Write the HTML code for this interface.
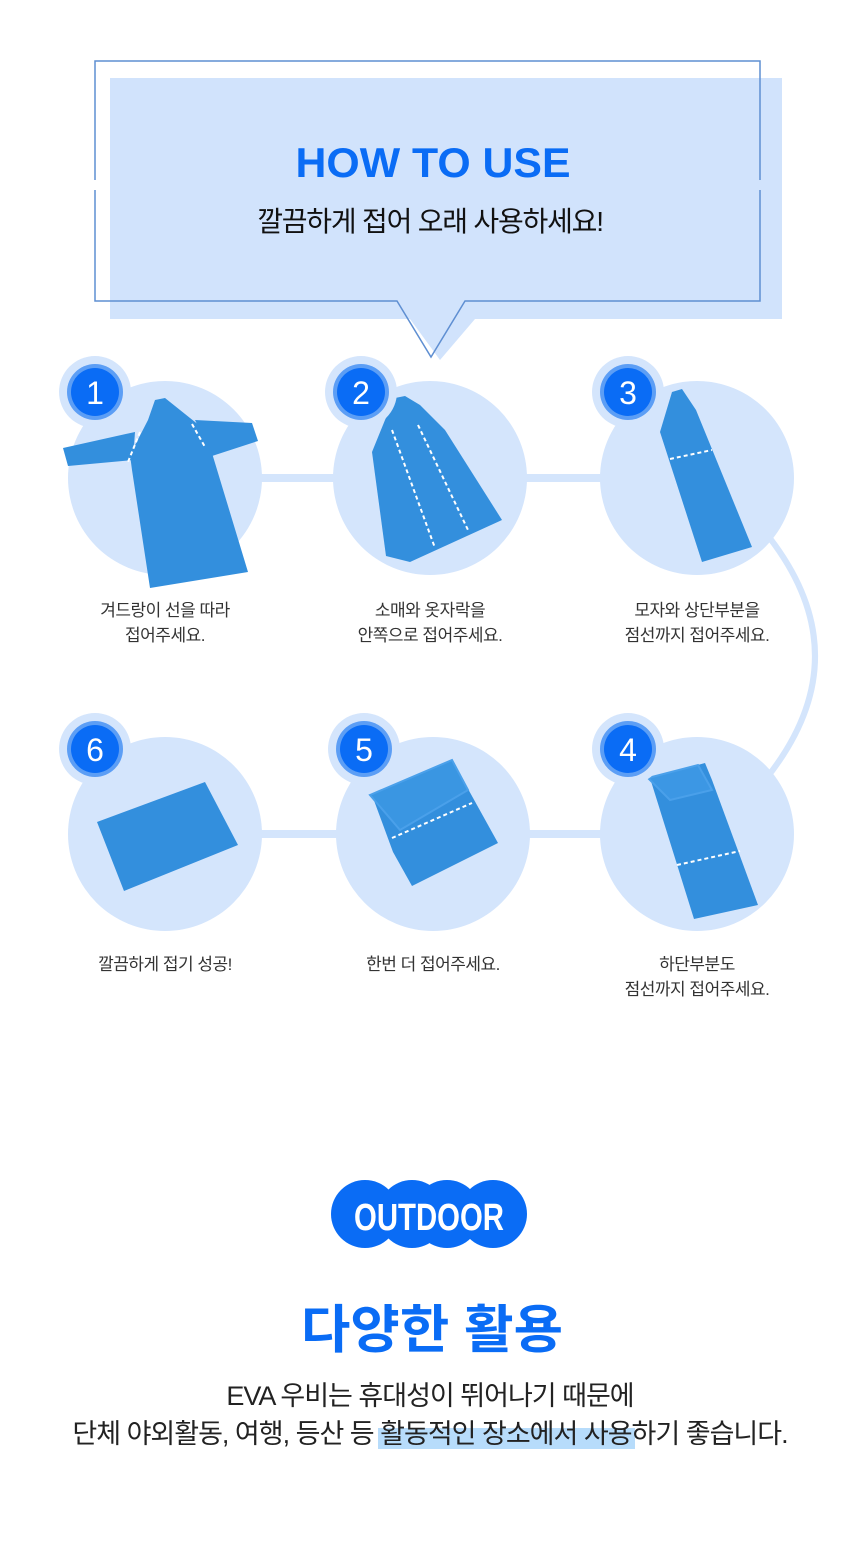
<!DOCTYPE html>
<html><head><meta charset="utf-8"><style>
html,body{margin:0;padding:0;background:#fff}
body{width:860px;height:1551px;overflow:hidden}
svg text{font-family:"Liberation Sans","Noto Sans CJK KR",sans-serif}
</style></head><body>
<svg width="860" height="1551" viewBox="0 0 860 1551" xmlns="http://www.w3.org/2000/svg">
<path d="M110 78 H782 V319 H475 L440 360 L410 319 H110 Z" fill="#d1e3fc"/>
<path d="M95 180 V61 H760 V180 M760 190 V301 H465 L431 357 L397 301 H95 V190" fill="none" stroke="#5f8fd2" stroke-width="1.5"/>
<text x="433" y="177" text-anchor="middle" font-size="42" font-weight="bold" fill="#0a6cf5" textLength="275" lengthAdjust="spacingAndGlyphs">HOW TO USE</text>
<text x="430" y="231" text-anchor="middle" font-size="28" fill="#111" letter-spacing="-1.2">깔끔하게 접어 오래 사용하세요!</text>

<g stroke="#d4e5fc" stroke-width="8" fill="none">
<line x1="165" y1="478" x2="697" y2="478"/>
<line x1="165" y1="834" x2="697" y2="834"/>
<path d="M765 532 Q865 656 765 780" stroke-width="6"/>
</g>
<g fill="#d4e5fc">
<circle cx="165" cy="478" r="97"/><circle cx="430" cy="478" r="97"/><circle cx="697" cy="478" r="97"/>
<circle cx="165" cy="834" r="97"/><circle cx="433" cy="834" r="97"/><circle cx="697" cy="834" r="97"/>
</g>

<g fill="#338fdd">
<path d="M63 448 L135 432 L133 460 L68 466 Z"/>
<path d="M195 420 L252 423 L258 441 L212 456 Z"/>
<path d="M148 420 L155 400 L165 398 L180 410 L205 430 L248 572 L150 588 L132 470 L130 455 Z"/>
<path d="M372 452 L385 420 L395 398 L405 396 L420 405 L445 430 L502 520 L410 562 L386 556 Z"/>
<path d="M660 432 L672 392 L682 389 L696 410 L752 547 L702 562 Z"/>
<path d="M650 778 L705 763 L712 780 L758 905 L694 919 Z"/>
<path d="M372 795 L452 760 L498 843 L412 886 L393 852 Z"/>
<path d="M97 822 L205 782 L238 845 L124 891 Z"/>
</g>
<g fill="none" stroke="#4aa0ea" stroke-width="2">
<path d="M648 778 L698 765 L712 790 L670 800 Z" fill="#3c97e4"/>
<path d="M370 795 L452 760 L468 790 L400 830 Z" fill="#3a96e2"/>
</g>
<g stroke="#fff" stroke-width="2" stroke-dasharray="4 3" fill="none">
<line x1="140" y1="432" x2="128" y2="462"/><line x1="192" y1="424" x2="205" y2="447"/>
<line x1="392" y1="430" x2="435" y2="548"/><line x1="418" y1="425" x2="468" y2="530"/>
<line x1="670" y1="459" x2="712" y2="450"/>
<line x1="677" y1="865" x2="740" y2="851"/>
<line x1="392" y1="838" x2="472" y2="803"/>
</g>

<g>
<circle cx="95" cy="392" r="36" fill="#d4e5fc"/><circle cx="95" cy="392" r="28" fill="#5c9ef5"/><circle cx="95" cy="392" r="24" fill="#0a6cf5"/>
<circle cx="361" cy="392" r="36" fill="#d4e5fc"/><circle cx="361" cy="392" r="28" fill="#5c9ef5"/><circle cx="361" cy="392" r="24" fill="#0a6cf5"/>
<circle cx="628" cy="392" r="36" fill="#d4e5fc"/><circle cx="628" cy="392" r="28" fill="#5c9ef5"/><circle cx="628" cy="392" r="24" fill="#0a6cf5"/>
<circle cx="95" cy="749" r="36" fill="#d4e5fc"/><circle cx="95" cy="749" r="28" fill="#5c9ef5"/><circle cx="95" cy="749" r="24" fill="#0a6cf5"/>
<circle cx="364" cy="749" r="36" fill="#d4e5fc"/><circle cx="364" cy="749" r="28" fill="#5c9ef5"/><circle cx="364" cy="749" r="24" fill="#0a6cf5"/>
<circle cx="628" cy="749" r="36" fill="#d4e5fc"/><circle cx="628" cy="749" r="28" fill="#5c9ef5"/><circle cx="628" cy="749" r="24" fill="#0a6cf5"/>
</g>
<g fill="#fff" font-size="32" text-anchor="middle">
<text x="95" y="404">1</text><text x="361" y="404">2</text><text x="628" y="404">3</text>
<text x="95" y="761">6</text><text x="364" y="761">5</text><text x="628" y="761">4</text>
</g>

<g font-size="17" fill="#333" text-anchor="middle" letter-spacing="-0.5">
<text x="165" y="616">겨드랑이 선을 따라</text><text x="165" y="641">접어주세요.</text>
<text x="430" y="616">소매와 옷자락을</text><text x="430" y="641">안쪽으로 접어주세요.</text>
<text x="697" y="616">모자와 상단부분을</text><text x="697" y="641">점선까지 접어주세요.</text>
<text x="165" y="970">깔끔하게 접기 성공!</text>
<text x="433" y="970">한번 더 접어주세요.</text>
<text x="697" y="970">하단부분도</text><text x="697" y="995">점선까지 접어주세요.</text>
</g>

<g fill="#0a6cf5">
<circle cx="365" cy="1214" r="34"/><circle cx="412" cy="1214" r="34"/><circle cx="447" cy="1214" r="34"/><circle cx="493" cy="1214" r="34"/>
</g>
<text x="429" y="1230" text-anchor="middle" font-size="38" font-weight="bold" fill="#fff" textLength="150" lengthAdjust="spacingAndGlyphs">OUTDOOR</text>
<text x="432" y="1348" text-anchor="middle" font-size="52" font-weight="bold" fill="#0a6cf5" textLength="262" lengthAdjust="spacingAndGlyphs">다양한 활용</text>
<rect x="378" y="1428" width="257" height="21" fill="#b7dcfb"/>
<g font-size="27" fill="#222" text-anchor="middle" letter-spacing="-1">
<text x="430" y="1405">EVA 우비는 휴대성이 뛰어나기 때문에</text>
<text x="430" y="1443">단체 야외활동, 여행, 등산 등 활동적인 장소에서 사용하기 좋습니다.</text>
</g>
</svg>
</body></html>
